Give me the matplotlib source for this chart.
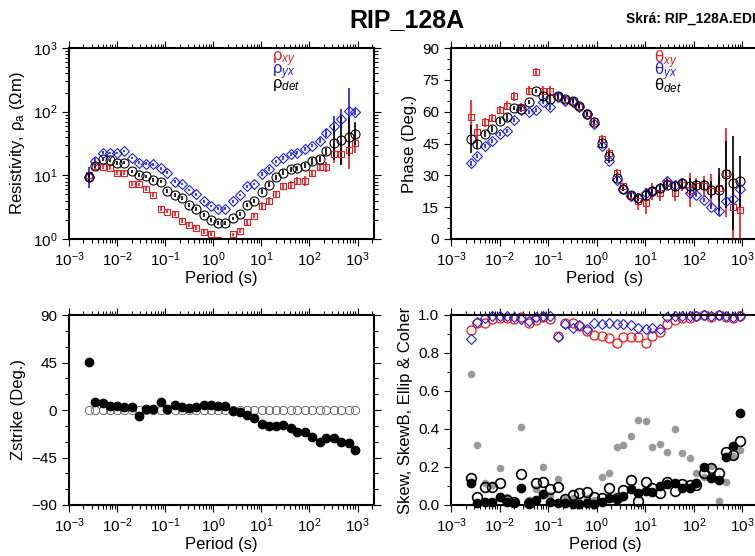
import numpy as np
import matplotlib
matplotlib.use('Agg')
import matplotlib.pyplot as plt
from matplotlib.ticker import MultipleLocator, LogLocator, NullFormatter

plt.rcParams['font.family'] = ['Liberation Sans', 'DejaVu Sans']
plt.rcParams['mathtext.fontset'] = 'custom'
plt.rcParams['mathtext.rm'] = 'Liberation Sans'
plt.rcParams['mathtext.it'] = 'Liberation Sans:italic'
plt.rcParams['mathtext.bf'] = 'Liberation Sans:bold'

# periods (s)
period = [0.0026, 0.0035, 0.005, 0.007, 0.01, 0.014, 0.02, 0.028, 0.04, 0.056,
          0.08, 0.11, 0.16, 0.22, 0.32, 0.44, 0.64, 0.88, 1.28, 1.76,
          2.56, 3.52, 5.12, 7.04, 10.24, 14.08, 20.48, 28.16, 40.96, 56.32,
          81.92, 112.64, 163.84, 225.28, 327.68, 450.56, 655.36, 901.12]

# apparent resistivity (Ohm m)
rho_xy = [10, 14.2, 13.4, 12.9, 10.8, 10.8, 7.3, 7.2, 6.1, 4.9,
          3.0, 2.7, 2.44, 1.92, 1.66, 1.47, 1.30, 1.2, 0.95, 0.9,
          1.18, 1.35, 1.83, 2.33, 3.3, 3.96, 5.0, 6.7, 7.1, 8.2,
          8.2, 11.0, 13.3, 13.7, 21.7, 21.7, 25.1, 32]
rho_yx = [9.3, 16.9, 22.8, 22.3, 22.3, 24.2, 18.8, 15.9, 15.2, 14.9,
          12.9, 11.0, 8.0, 7.3, 5.9, 5.0, 3.9, 3.3, 3.0, 3.0,
          3.9, 4.9, 6.7, 7.3, 10.4, 12.5, 16.5, 18.6, 21.5, 22.8,
          25.7, 29.4, 35.2, 45.9, 60, 77, 104, 100]
rho_det = [9.3, 14.1, 17.9, 17.1, 15.5, 15.9, 11.5, 10.2, 9.6, 8.5,
           8.0, 5.6, 4.9, 4.4, 3.4, 3.0, 2.4, 2.0, 1.76, 1.76,
           2.1, 2.5, 3.4, 4.0, 5.55, 7.1, 9.3, 11.0, 12.5, 12.9,
           14.1, 16.5, 18.1, 23.7, 32, 36, 40.7, 44.9]
# resistivity errors (log10 half-width)
rho_xy_err = [0.03, 0.05, 0.03, 0.03, 0.03, 0.03, 0.03, 0.03, 0.03, 0.03,
              0.04, 0.03, 0.03, 0.03, 0.03, 0.03, 0.03, 0.03, 0.03, 0.03,
              0.03, 0.03, 0.04, 0.04, 0.06, 0.06, 0.06, 0.06, 0.06, 0.06,
              0.08, 0.05, 0.06, 0.08, 0.15, 0.18, 0.3, 0.15]
rho_yx_err = [0.16, 0.04, 0.02, 0.02, 0.02, 0.02, 0.02, 0.02, 0.02, 0.02,
              0.02, 0.02, 0.02, 0.02, 0.02, 0.02, 0.02, 0.02, 0.02, 0.02,
              0.02, 0.02, 0.02, 0.02, 0.03, 0.03, 0.03, 0.03, 0.03, 0.03,
              0.03, 0.03, 0.04, 0.06, 0.15, 0.15, 0.35, 0.05]
rho_det_err = [0.08, 0.03, 0.03, 0.03, 0.03, 0.03, 0.03, 0.03, 0.03, 0.03,
               0.03, 0.03, 0.03, 0.03, 0.03, 0.03, 0.03, 0.03, 0.03, 0.03,
               0.03, 0.03, 0.03, 0.03, 0.04, 0.04, 0.04, 0.04, 0.04, 0.04,
               0.04, 0.05, 0.05, 0.05, 0.27, 0.4, 0.3, 0.18]

# phase (deg)
phs_xy = [57.6, 50.2, 54.9, 57.0, 60.8, 62.8, 67.2, 62.0, 69.9, 78.6,
          69.9, 69.9, 67.2, 66.0, 65.2, 62.8, 59.3, 55.7, 47.0, 40.7,
          31.2, 24.8, 20.9, 17.7, 16.9, 22.5, 21.7, 26.4, 21.7, 25.6,
          23.3, 24.8, 24.8, 22.5, 24.0, 31.2, 15.3, 13.8]
phs_yx = [35.6, 39.1, 43.8, 46.2, 49.4, 50.9, 56.2, 60.8, 59.7, 60.8,
          64.4, 62.0, 66.8, 65.2, 64.7, 62.0, 58.9, 54.1, 43.8, 36.7,
          28.0, 23.6, 20.1, 19.3, 21.7, 22.5, 24.0, 27.2, 25.6, 26.4,
          21.7, 20.9, 18.5, 15.3, 13.0, 17.7, 18.8, 23.6]
phs_det = [47.0, 44.6, 49.4, 51.7, 55.7, 57.3, 61.7, 61.2, 64.7, 69.9,
           67.2, 66.0, 67.2, 66.0, 65.2, 62.8, 58.9, 54.9, 45.4, 39.1,
           28.8, 23.7, 20.9, 19.3, 20.9, 22.5, 24.0, 25.6, 25.2, 26.4,
           24.8, 25.6, 25.6, 23.3, 23.3, 30.4, 26.4, 27.2]
phs_xy_err = [8, 4, 2, 2, 2, 2, 2, 2, 2, 2,
              2, 2, 1, 1, 1, 1, 1, 1, 2, 2,
              2, 1, 1, 4, 5, 4, 4, 3, 4, 3,
              8, 4, 5, 8, 6, 21, 16, 14]
phs_yx_err = [1, 1, 1, 1, 1, 1, 1, 1, 1, 1,
              1, 1, 1, 1, 1, 1, 1, 1, 1, 1,
              1, 1, 1, 1, 1, 1, 1, 1, 1, 1,
              1, 1, 1, 1, 2, 3, 3, 2]
phs_det_err = [6.5, 2, 1.5, 1.5, 1.5, 1.5, 1, 1, 1, 1,
               2, 2, 1, 1, 1, 1, 1, 1, 1.5, 1.5,
               1.5, 1, 1, 1.5, 3, 2, 2, 2, 2, 2,
               4, 2, 2, 4, 10, 16, 22, 12]

# strike (deg)
zstrike = [45.2, 7.9, 6.3, 4.1, 3.8, 2.5, 2.5, -5.7, 0.9, 0.6,
           7.3, 0.9, 4.4, 2.5, 1.6, 3.2, 4.7, 4.7, 3.8, 3.8,
           -0.6, -1.6, -4.7, -7.9, -13.3, -15.2, -15.2, -14.2, -17.4, -20.5,
           -21.2, -25.3, -30.0, -26.8, -26.8, -30.0, -31.6, -37.9]
zstrike_ref = [0.0] * 38

# skew, skewB, ellipticity, coherence
coh_xy = [0.921, 0.96, 0.956, 0.979, 0.982, 0.982, 0.977, 0.988, 0.96, 0.974,
          0.991, 0.977, 0.889, 0.956, 0.956, 0.942, 0.918, 0.895, 0.889, 0.877,
          0.851, 0.882, 0.882, 0.882, 0.851, 0.889, 0.912, 0.953, 0.974, 0.982,
          0.982, 0.995, 1.0, 0.991, 1.0, 0.988, 0.982, 0.995]
coh_yx = [0.872, 0.965, 0.982, 0.995, 0.996, 0.996, 0.991, 0.977, 0.97, 0.988,
          0.996, 0.995, 0.882, 0.953, 0.93, 0.947, 0.925, 0.956, 0.953, 0.96,
          0.953, 0.953, 0.947, 0.933, 0.925, 0.93, 0.925, 0.991, 0.996, 0.996,
          0.996, 0.996, 1.0, 0.996, 1.0, 0.996, 0.991, 0.996]
ellip = [0.689, 0.316, 0.114, 0.105, 0.193, 0.044, 0.018, 0.409, 0.026, 0.082,
         0.202, 0.053, 0.135, 0.03, 0.035, 0.018, 0.035, 0.026, 0.149, 0.17,
         0.307, 0.316, 0.363, 0.447, 0.444, 0.307, 0.321, 0.281, 0.398, 0.272,
         0.246, 0.167, 0.149, 0.205, 0.023, 0.123, 0.258, 0.289]
skew = [0.114, 0.009, 0.018, 0.018, 0.04, 0.018, 0.009, 0.088, 0.009, 0.026,
        0.058, 0.018, 0.012, 0.012, 0.005, 0.005, 0.012, 0.005, 0.018, 0.035,
        0.032, 0.047, 0.082, 0.065, 0.075, 0.07, 0.1, 0.11, 0.114, 0.088,
        0.088, 0.114, 0.198, 0.14, 0.132, 0.254, 0.31, 0.482]
skewb = [0.14, 0.044, 0.096, 0.093, 0.114, 0.026, 0.018, 0.163, 0.009, 0.114,
         0.123, 0.082, 0.096, 0.03, 0.053, 0.061, 0.07, 0.04, 0.035, 0.088,
         0.035, 0.079, 0.132, 0.023, 0.123, 0.088, 0.061, 0.123, 0.075, 0.11,
         0.105, 0.105, 0.167, 0.193, 0.17, 0.281, 0.263, 0.339]

RED, BLUE, BLK, GRAY = '#e8191c', '#1f1fe6', 'black', '#999999'
W, H = 755, 556

fig = plt.figure(figsize=(W / 100, H / 100), dpi=100)


def box(l, t, r, b):
    return [l / W, 1 - b / H, (r - l) / W, (b - t) / H]


ax1 = fig.add_axes(box(69, 48, 374, 239))
ax2 = fig.add_axes(box(451, 48, 759, 239))
ax3 = fig.add_axes(box(69, 315, 374, 505))
ax4 = fig.add_axes(box(451, 315, 759, 505))


def style(ax):
    ax.set_xscale('log')
    ax.set_xlim(1e-3, 2.2e3)
    ax.xaxis.set_major_locator(LogLocator(base=10, numticks=10))
    ax.xaxis.set_minor_locator(LogLocator(base=10, subs=np.arange(2, 10), numticks=20))
    ax.xaxis.set_minor_formatter(NullFormatter())
    ax.tick_params(which='both', direction='out', top=True, right=True,
                   labelsize=11, width=0.8, colors='black')
    ax.tick_params(which='major', length=5)
    ax.tick_params(which='minor', length=3)
    for s in ax.spines.values():
        s.set_linewidth(1.5)
    ax.set_xlabel('Period (s)', fontsize=12, labelpad=1)


def logerr(vals, dex):
    v = np.array(vals)
    d = np.array(dex)
    return [v - v / 10 ** d, v * 10 ** d - v]


def legend3(ax, x, sym):
    # stacked coloured labels
    ax.text(x, 0.94, sym + r'$_{xy}$', color=RED, fontsize=12, transform=ax.transAxes, va='center')
    ax.text(x, 0.875, sym + r'$_{yx}$', color=BLUE, fontsize=12, transform=ax.transAxes, va='center')
    ax.text(x, 0.805, sym + r'$_{det}$', color=BLK, fontsize=12, transform=ax.transAxes, va='center')


p = np.array(period)

# resistivity
style(ax1)
ax1.set_yscale('log')
ax1.set_ylim(1, 1000)
ax1.yaxis.set_minor_locator(LogLocator(base=10, subs=np.arange(2, 10), numticks=20))
ax1.yaxis.set_minor_formatter(NullFormatter())
ax1.errorbar(p, rho_xy, yerr=logerr(rho_xy, rho_xy_err), fmt='s', ms=5, mfc='none',
             mec=RED, mew=0.8, ecolor=RED, elinewidth=1.2, capsize=0)
ax1.errorbar(p, rho_yx, yerr=logerr(rho_yx, rho_yx_err), fmt='D', ms=5, mfc='none',
             mec=BLUE, mew=0.8, ecolor=BLUE, elinewidth=1.2, capsize=0)
ax1.errorbar(p, rho_det, yerr=logerr(rho_det, rho_det_err), fmt='o', ms=6.5, mfc='none',
             mec=BLK, mew=0.8, ecolor=BLK, elinewidth=1.2, capsize=0)
ax1.set_ylabel('Resistivity, \u03c1$_\\mathrm{a}$ (\u03a9m)', fontsize=12, labelpad=4)
legend3(ax1, 0.665, '\u03c1')

# phase
style(ax2)
ax2.set_ylim(0, 90)
ax2.yaxis.set_major_locator(MultipleLocator(15))
ax2.yaxis.set_minor_locator(MultipleLocator(5))
ax2.errorbar(p, phs_xy, yerr=phs_xy_err, fmt='s', ms=5, mfc='none',
             mec=RED, mew=0.8, ecolor=RED, elinewidth=1.2, capsize=0)
ax2.errorbar(p, phs_yx, yerr=phs_yx_err, fmt='D', ms=5, mfc='none',
             mec=BLUE, mew=0.8, ecolor=BLUE, elinewidth=1.2, capsize=0)
ax2.errorbar(p, phs_det, yerr=phs_det_err, fmt='o', ms=6.5, mfc='none',
             mec=BLK, mew=0.8, ecolor=BLK, elinewidth=1.2, capsize=0)
ax2.set_ylabel('Phase (Deg.)', fontsize=12, labelpad=4)
ax2.set_xlabel('Period  (s)', fontsize=12, labelpad=1)
legend3(ax2, 0.66, '\u03b8')

# strike
style(ax3)
ax3.set_ylim(-90, 90)
ax3.yaxis.set_minor_locator(MultipleLocator(15))
ax3.set_yticks([-90, -45, 0, 45, 90], labels=['\u221290', '\u221245', '0', '45', '90'])
ax3.plot(p, zstrike_ref, 'o', ms=6, mfc='none', mec='#555555', mew=0.6)
ax3.plot(p, zstrike, 'o', ms=6, mfc=BLK, mec=BLK)
ax3.set_ylabel('Zstrike (Deg.)', fontsize=12, labelpad=4)

# skew / ellip / coherence
style(ax4)
ax4.set_ylim(0, 1.0)
ax4.yaxis.set_major_locator(MultipleLocator(0.2))
ax4.yaxis.set_minor_locator(MultipleLocator(0.1))
ax4.yaxis.set_major_formatter(plt.FormatStrFormatter('%.1f'))
ax4.plot(p, coh_xy, 'o', ms=6.5, mfc='none', mec=RED, mew=0.9, clip_on=False)
ax4.plot(p, coh_yx, 'D', ms=5, mfc='none', mec=BLUE, mew=0.8, clip_on=False)
ax4.plot(p, ellip, 'o', ms=4.5, mfc=GRAY, mec=GRAY, clip_on=False)
ax4.plot(p, skew, 'o', ms=6, mfc=BLK, mec=BLK, clip_on=False)
ax4.plot(p, skewb, 'o', ms=7, mfc='none', mec=BLK, mew=1.2, clip_on=False)
ax4.set_ylabel('Skew, SkewB, Ellip & Coher', fontsize=12, labelpad=4)

fig.text(407 / W, 1 - 20 / H, 'RIP_128A', fontsize=18, fontweight='bold', ha='center', va='center')
fig.text(626 / W, 1 - 19 / H, 'Skrá: RIP_128A.EDI', fontsize=10, fontweight='bold', ha='left', va='center')

fig.savefig('out.png', dpi=100)
